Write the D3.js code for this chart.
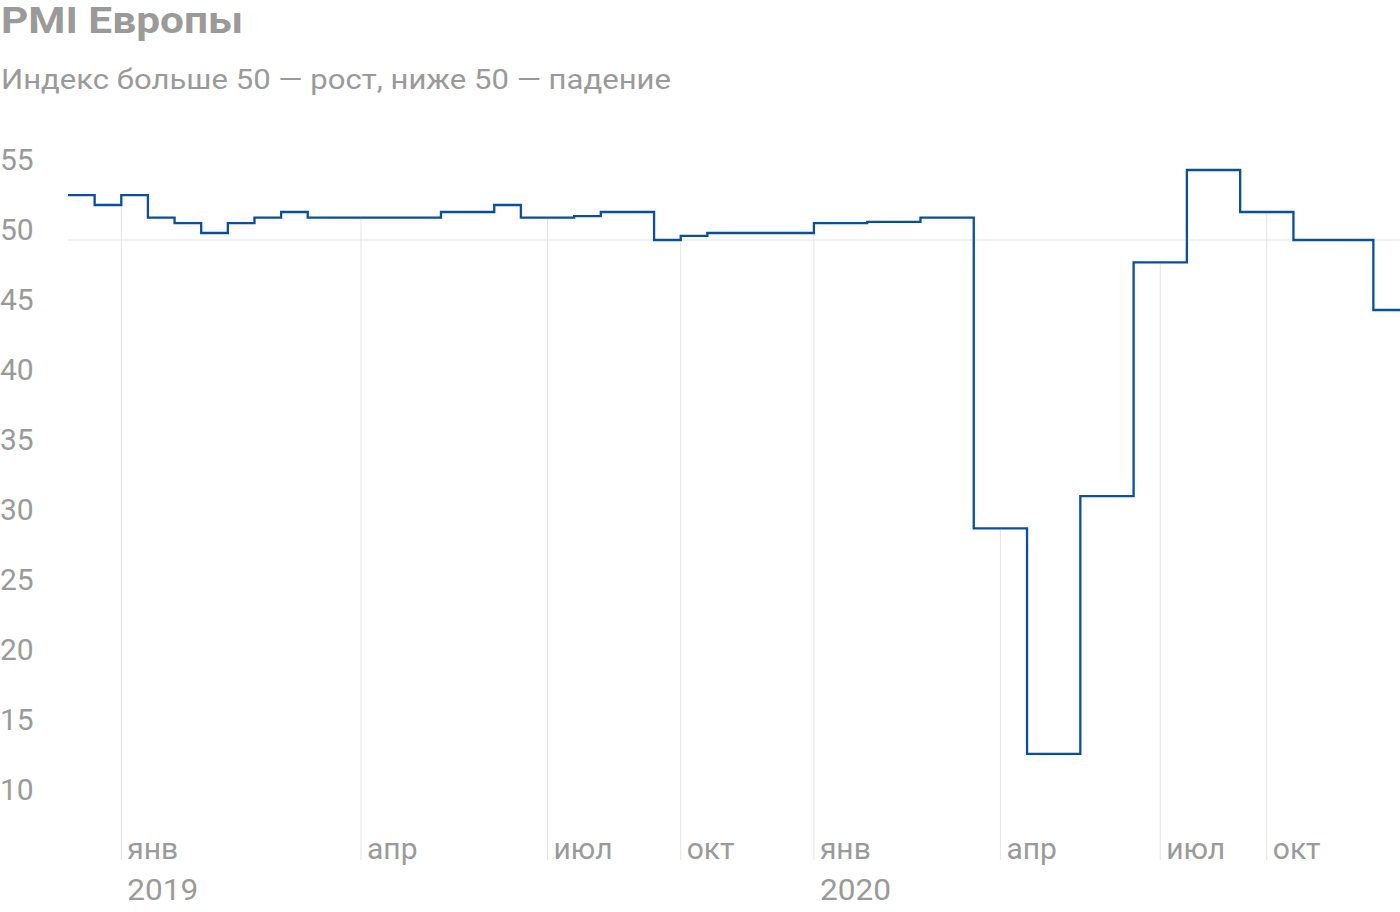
<!DOCTYPE html>
<html>
<head>
<meta charset="utf-8">
<script src="https://cdn.jsdelivr.net/npm/d3@7"></script>
<style>
  html, body { margin: 0; padding: 0; background: #fff; }
  svg { display: block; font-family: Roboto, "Noto Sans", sans-serif; }
</style>
</head>
<body>
<svg id="chart" width="1400" height="912"></svg>
<script>
// ---- data (one value per period slot) ----
const values = [
  53.2, 52.5, 53.2, 51.6, 51.2, 50.5, 51.2, 51.6, 52.0, 51.6,
  51.6, 51.6, 51.6, 51.6, 52.0, 52.0, 52.5, 51.6, 51.6, 51.7,
  52.0, 52.0, 50.0, 50.3, 50.5, 50.5, 50.5, 50.5, 51.2, 51.2,
  51.3, 51.3, 51.6, 51.6, 29.4, 29.4, 13.3, 13.3, 31.7, 31.7,
  48.4, 48.4, 55.0, 55.0, 52.0, 52.0, 50.0, 50.0, 50.0, 45.0
];
const tickSlots  = [2, 11, 18, 23, 28, 35, 41, 45];
const tickLabels = ["янв", "апр", "июл", "окт", "янв", "апр", "июл", "окт"];
const yearSlots  = [2, 28];
const yearLabels = ["2019", "2020"];
const yTicks = [10, 15, 20, 25, 30, 35, 40, 45, 50, 55];
const title = "PMI Европы";
const subtitle = "Индекс больше 50 — рост, ниже 50 — падение";

// ---- layout ----
const svg = d3.select("#chart");
const x = d3.scaleLinear().domain([0, values.length]).range([68, 1400]);
const y = d3.scaleLinear().domain([10, 55]).range([800, 170]);
const gridColor = "#e3e3e3";
const textColor = "#9a9a9a";
const lineColor = "#0b4e9b";
const axisBottom = 860;

svg.append("text").attr("x", 1).attr("y", 33)
  .attr("font-size", 36).attr("font-weight", 700).attr("fill", textColor)
  .attr("textLength", 242).attr("lengthAdjust", "spacingAndGlyphs")
  .text(title);
svg.append("text").attr("x", 1).attr("y", 89)
  .attr("font-size", 28).attr("fill", textColor)
  .attr("textLength", 670).attr("lengthAdjust", "spacingAndGlyphs")
  .text(subtitle);

// y labels
svg.append("g").selectAll("text").data(yTicks).join("text")
  .attr("x", 0).attr("y", d => y(d))
  .attr("font-size", 30).attr("fill", textColor)
  .text(d => d);

// horizontal line at 50
svg.append("line")
  .attr("x1", x(0)).attr("x2", x(values.length))
  .attr("y1", y(50)).attr("y2", y(50))
  .attr("stroke", gridColor).attr("stroke-width", 1);

// vertical drop lines at ticks
svg.append("g").selectAll("line").data(tickSlots).join("line")
  .attr("x1", d => x(d)).attr("x2", d => x(d))
  .attr("y1", d => y(values[d])).attr("y2", axisBottom)
  .attr("stroke", gridColor).attr("stroke-width", 1);

// month labels
svg.append("g").selectAll("text").data(tickSlots).join("text")
  .attr("x", d => x(d) + 6).attr("y", axisBottom - 1)
  .attr("font-size", 30).attr("fill", textColor)
  .text((d, i) => tickLabels[i]);

// year labels
svg.append("g").selectAll("text").data(yearSlots).join("text")
  .attr("x", d => x(d) + 6).attr("y", axisBottom + 40)
  .attr("font-size", 30).attr("fill", textColor)
  .attr("textLength", 71).attr("lengthAdjust", "spacingAndGlyphs")
  .text((d, i) => yearLabels[i]);

// step line
const pts = values.map((v, i) => [i, v]);
pts.push([values.length, values[values.length - 1]]);
const line = d3.line()
  .x(d => x(d[0])).y(d => y(d[1]))
  .curve(d3.curveStepAfter);
svg.append("path").datum(pts)
  .attr("d", line)
  .attr("fill", "none")
  .attr("stroke", lineColor)
  .attr("stroke-width", 2.3);
</script>
</body>
</html>
